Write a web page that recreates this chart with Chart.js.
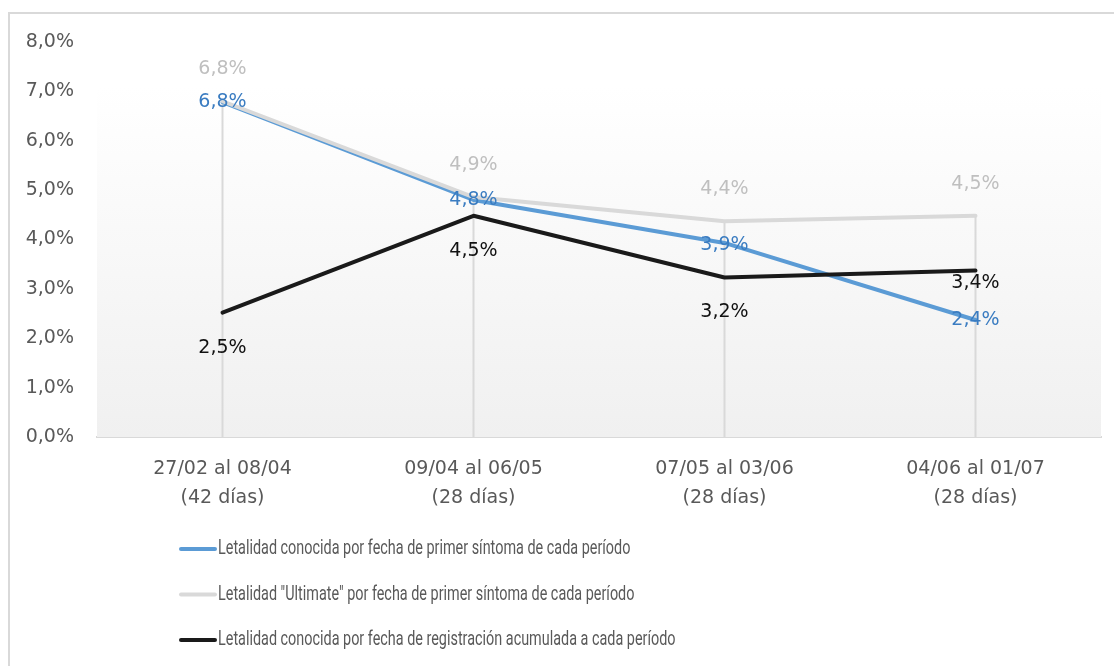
<!DOCTYPE html>
<html>
<head>
<meta charset="utf-8">
<script src="https://cdn.jsdelivr.net/npm/chart.js@4.4.1/dist/chart.umd.min.js"></script>
<style>
  html, body { margin: 0; padding: 0; background: #fff; }
  #frame { position: absolute; left: 8px; top: 12px; width: 1200px; height: 800px; border: 2px solid #d9d9d9; box-sizing: border-box; }
  #wrap { position: absolute; left: 0; top: 0; width: 1114px; height: 666px; }
</style>
</head>
<body>
<div id="frame"></div>
<div id="wrap"><canvas id="myChart" width="1114" height="666"></canvas></div>
<script>
// periodos
const categories = [
  ['27/02 al 08/04', '(42 días)'],
  ['09/04 al 06/05', '(28 días)'],
  ['07/05 al 03/06', '(28 días)'],
  ['04/06 al 01/07', '(28 días)']
];
const conocidaSintoma = [6.78, 4.80, 3.93, 2.37];
const ultimateSintoma = [6.80, 4.86, 4.37, 4.48];
const conocidaRegistro = [2.52, 4.48, 3.23, 3.37];
const yTicks = [0, 1, 2, 3, 4, 5, 6, 7, 8];

const seriesNames = [
  'Letalidad conocida por fecha de primer síntoma de cada período',
  'Letalidad "Ultimate" por fecha de primer síntoma de cada período',
  'Letalidad conocida por fecha de registración acumulada a cada período'
];

const FONT = 'DejaVu Sans';
const fmt = v => v.toFixed(1).replace('.', ',') + '%';

// fondo degradado + lineas verticales (drop lines)
const plotBack = {
  id: 'plotBack',
  beforeDatasetsDraw(chart) {
    const { ctx, chartArea: a, scales } = chart;
    const top = scales.y.getPixelForValue(7.1);
    ctx.save();
    const g = ctx.createLinearGradient(0, top, 0, a.bottom);
    g.addColorStop(0, '#ffffff');
    g.addColorStop(1, '#f0f0f0');
    ctx.fillStyle = g;
    ctx.fillRect(a.left, top, a.right - a.left, a.bottom - top);
    ctx.strokeStyle = '#d9d9d9';
    ctx.lineWidth = 2;
    categories.forEach((c, i) => {
      const hi = Math.max(...chart.data.datasets.map(d => d.data[i]));
      const x = scales.x.getPixelForValue(i);
      ctx.beginPath();
      ctx.moveTo(x, scales.y.getPixelForValue(hi));
      ctx.lineTo(x, a.bottom);
      ctx.stroke();
    });
    ctx.restore();
  }
};

// etiquetas de datos
const valueLabels = {
  id: 'valueLabels',
  afterDatasetsDraw(chart, args, opts) {
    const { ctx } = chart;
    ctx.save();
    ctx.font = '19px "' + FONT + '"';
    ctx.textAlign = 'center';
    ctx.textBaseline = 'middle';
    chart.data.datasets.forEach((ds, di) => {
      const meta = chart.getDatasetMeta(di);
      ctx.fillStyle = opts.colors[di];
      meta.data.forEach((pt, i) => {
        ctx.fillText(fmt(ds.data[i]), pt.x, pt.y + opts.offsets[di][i]);
      });
    });
    ctx.restore();
  }
};

// leyenda en lista vertical
const legendList = {
  id: 'legendList',
  afterDraw(chart, args, opts) {
    const { ctx } = chart;
    ctx.save();
    ctx.textBaseline = 'middle';
    chart.data.datasets.forEach((ds, di) => {
      const y = opts.top + di * opts.step;
      ctx.strokeStyle = ds.borderColor;
      ctx.lineWidth = 4;
      ctx.lineCap = 'round';
      ctx.beginPath();
      ctx.moveTo(opts.left, y);
      ctx.lineTo(opts.left + 34, y);
      ctx.stroke();
      ctx.save();
      ctx.translate(opts.left + 37, y);
      ctx.scale(opts.squeeze, 1);
      ctx.font = opts.font;
      ctx.fillStyle = '#595959';
      ctx.fillText(ds.label, 0, 0);
      ctx.restore();
    });
    ctx.restore();
  }
};

const ctx = document.getElementById('myChart').getContext('2d');
const data = {
  labels: categories,
  datasets: [{
    label: seriesNames[0],
    data: conocidaSintoma,
    borderColor: '#5b9bd5',
    order: 3
  }, {
    label: seriesNames[1],
    data: ultimateSintoma,
    borderColor: '#d9d9d9',
    order: 2
  }, {
    label: seriesNames[2],
    data: conocidaRegistro,
    borderColor: '#1a1a1a',
    order: 1
  }]
};

const config = {
  type: 'line',
  data: data,
  options: {
    responsive: false,
    animation: false,
    layout: { padding: { top: 42, right: 13, bottom: 159, left: 0 } },
    elements: {
      line: { borderWidth: 4, tension: 0, borderCapStyle: 'round', borderJoinStyle: 'round', fill: false },
      point: { radius: 0, hoverRadius: 0 }
    },
    scales: {
      y: {
        min: 0,
        max: 8,
        afterFit(scale) { scale.width = 97; },
        afterBuildTicks(scale) { scale.ticks = yTicks.map(v => ({ value: v })); },
        grid: { display: false },
        border: { display: false },
        ticks: {
          callback: v => fmt(v),
          color: '#595959',
          font: { family: FONT, size: 19 },
          padding: 15
        }
      },
      x: {
        offset: true,
        afterFit(scale) { scale.height = 70; },
        grid: { display: false },
        border: { display: true, color: '#d9d9d9', width: 2 },
        ticks: {
          color: '#595959',
          font: { family: FONT, size: 19, lineHeight: '29px' },
          padding: 10,
          maxRotation: 0
        }
      }
    },
    plugins: {
      legend: { display: false },
      tooltip: { enabled: false },
      valueLabels: {
        colors: ['#3a7cc1', '#bfbfbf', '#111111'],
        offsets: [[0, 0, 2, 0], [-32, -32, -32, -32], [35, 35, 35, 12]]
      },
      legendList: {
        font: '20px Roboto',
        squeeze: 0.72,
        left: 181,
        top: 549,
        step: 45.5
      }
    }
  },
  plugins: [plotBack, valueLabels, legendList]
};

const myChart = new Chart(ctx, config);
</script>
</body>
</html>
